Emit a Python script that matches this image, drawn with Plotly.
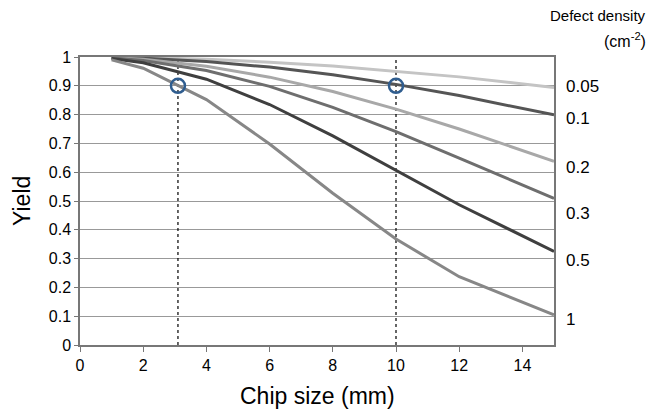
import plotly.graph_objects as go

chip_size = [1, 2, 4, 6, 8, 10, 12, 15]
densities = ["0.05", "0.1", "0.2", "0.3", "0.5", "1"]
yield_d005 = [0.9995, 0.998, 0.992, 0.982, 0.969, 0.951, 0.931, 0.894]
yield_d01 = [0.999, 0.996, 0.984, 0.965, 0.938, 0.905, 0.866, 0.799]
yield_d02 = [0.998, 0.992, 0.968, 0.930, 0.880, 0.819, 0.750, 0.638]
yield_d03 = [0.997, 0.988, 0.953, 0.898, 0.825, 0.741, 0.649, 0.509]
yield_d05 = [0.995, 0.980, 0.923, 0.835, 0.726, 0.607, 0.487, 0.325]
yield_d1 = [0.990, 0.961, 0.852, 0.698, 0.527, 0.368, 0.237, 0.105]
series = [yield_d005, yield_d01, yield_d02, yield_d03, yield_d05, yield_d1]
colors = ["#c4c4c4", "#555555", "#a8a8a8", "#6e6e6e", "#3f3f3f", "#878787"]
label_y = [0.896, 0.788, 0.615, 0.458, 0.295, 0.087]

marker_x = [3.1, 10]
marker_y = [0.9, 0.9]

x_ticks = [0, 2, 4, 6, 8, 10, 12, 14]
y_ticks = [0, 0.1, 0.2, 0.3, 0.4, 0.5, 0.6, 0.7, 0.8, 0.9, 1]
y_ticktext = ["0", "0.1", "0.2", "0.3", "0.4", "0.5", "0.6", "0.7", "0.8", "0.9", "1"]

FONT = "Liberation Sans, Arial, Helvetica, sans-serif"

fig = go.Figure()

for xv in marker_x:
    fig.add_trace(go.Scatter(x=[xv, xv], y=[0, 1], mode="lines",
                             line=dict(color="black", width=1.2, dash="3px,3px"),
                             showlegend=False, hoverinfo="skip"))

for vals, col in zip(series, colors):
    fig.add_trace(go.Scatter(x=chip_size, y=vals, mode="lines",
                             line=dict(color=col, width=3),
                             showlegend=False))

fig.add_trace(go.Scatter(x=marker_x, y=marker_y, mode="markers",
                         marker=dict(symbol="circle-open", size=14,
                                     color="#2f5d8f", line=dict(width=2.5, color="#2f5d8f")),
                         showlegend=False))

for lab, ly in zip(densities, label_y):
    fig.add_annotation(x=1.0, xref="paper", xshift=10, y=ly, yref="y",
                       text=lab, showarrow=False, xanchor="left", yanchor="middle",
                       font=dict(size=17, color="black", family=FONT))

fig.add_annotation(x=1.0, xref="paper", xshift=94, y=1.0, yref="paper", yshift=42,
                   text="Defect density", showarrow=False, xanchor="right",
                   yanchor="middle", font=dict(size=15, color="black", family=FONT))
fig.add_annotation(x=1.0, xref="paper", xshift=94, y=1.0, yref="paper", yshift=17,
                   text="(cm<sup>-2</sup>)", showarrow=False, xanchor="right",
                   yanchor="middle", font=dict(size=16, color="black", family=FONT))

fig.add_annotation(x=0.5, xref="paper", y=0, yref="paper", yshift=-51,
                   text="Chip size (mm)", showarrow=False, xanchor="center",
                   yanchor="middle", font=dict(size=23, color="black", family=FONT))
fig.add_annotation(x=0, xref="paper", xshift=-58, y=0.5, yref="paper",
                   text="Yield", textangle=-90, showarrow=False, xanchor="center",
                   yanchor="middle", font=dict(size=23, color="black", family=FONT))

fig.update_layout(
    width=648, height=410,
    margin=dict(l=72, r=102, t=49, b=73),
    plot_bgcolor="white", paper_bgcolor="white",
    font=dict(family=FONT, color="black"),
    xaxis=dict(range=[0, 15], tickvals=x_ticks,
               showgrid=False, zeroline=False, showline=True, linecolor="#777",
               linewidth=1.5, mirror=True, ticks="outside", ticklen=5, tickcolor="#777",
               tickfont=dict(size=16), automargin=False),
    yaxis=dict(range=[0, 1], tickvals=y_ticks, ticktext=y_ticktext,
               showgrid=True, gridcolor="#999", gridwidth=1, zeroline=False,
               showline=True, linecolor="#777", linewidth=1.5, mirror=True,
               ticks="outside", ticklen=4, tickcolor="#777",
               tickfont=dict(size=16), automargin=False),
)

fig.write_html("out.html")
